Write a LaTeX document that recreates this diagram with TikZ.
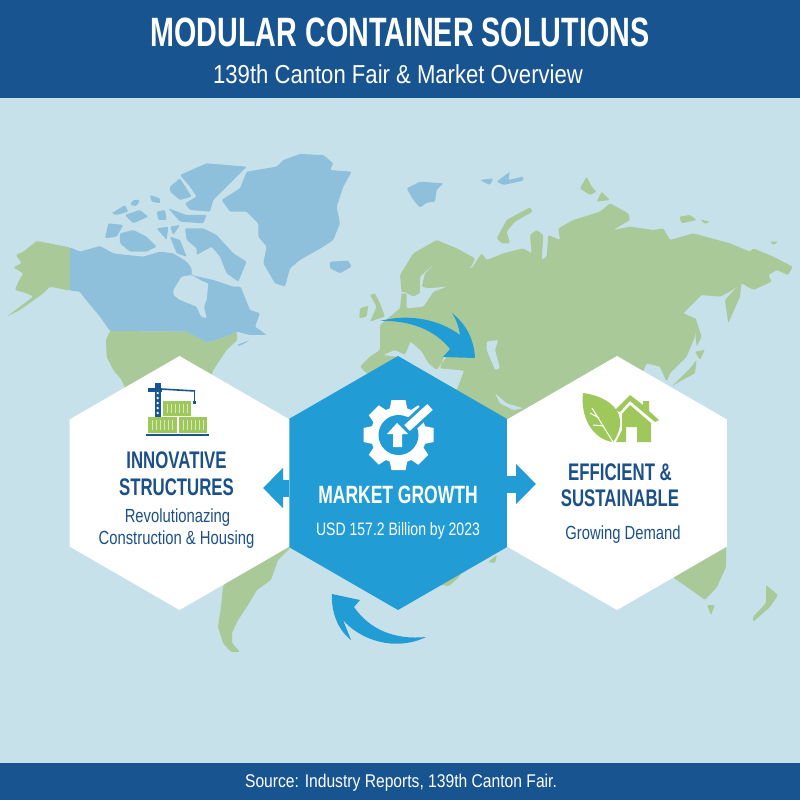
\documentclass[tikz,border=0pt]{standalone}
\usepackage{fontspec}
\setmainfont{Liberation Sans}[FakeStretch=0.78]
\newfontfamily\headfont{Liberation Sans}[FakeStretch=0.70]
\newfontfamily\widefont{Liberation Sans}[FakeStretch=0.85]
\usepackage{tikz}
\usetikzlibrary{arrows.meta,shapes.geometric,positioning}
\definecolor{mcwater}{RGB}{198,225,234}
\definecolor{mcland}{RGB}{170,201,152}
\definecolor{mcice}{RGB}{143,192,219}
\definecolor{mcnavy}{RGB}{24,84,143}
\definecolor{mctext}{RGB}{28,80,136}
\definecolor{mcblue}{RGB}{33,156,212}
\definecolor{mcgreen}{RGB}{158,199,92}
\tikzstyle{band} = [rectangle, fill=mcnavy, minimum width=800pt, inner sep=0pt]
\tikzstyle{hexagon} = [regular polygon, regular polygon sides=6, shape border rotate=30, minimum size=254pt, inner sep=0pt, fill=white]
\tikzstyle{heading} = [font=\headfont\fontsize{24}{26}\selectfont\bfseries, text=mctext, inner sep=0pt, text height=17pt, text depth=0pt]
\tikzstyle{subline} = [font=\fontsize{19}{21}\selectfont, text=mctext, inner sep=0pt, text height=14pt, text depth=0pt]
\tikzstyle{flow} = [line width=17pt, color=mcblue, -{Triangle[length=20pt,width=39pt]}]
\tikzstyle{land} = [fill=mcland, rounded corners=1.2pt]
\tikzstyle{ice} = [fill=mcice, rounded corners=1.2pt]
\tikzstyle{sea} = [fill=mcwater, rounded corners=1.2pt]
\begin{document}
\begin{tikzpicture}[x=1pt, y=-1pt]
\fill[mcwater] (0,0) rectangle (800,800);

% Americas, in crop units
\begin{scope}[shift={(0,140)}, x=0.3333pt, y=-0.3333pt]
\fill[land] (210,322) -- (110,303) -- (70,335) -- (48,345) -- (65,370) -- (40,382) -- (70,400) -- (55,425) -- (45,450) -- (80,460) -- (100,470) -- (20,530) -- (60,510) -- (130,460) -- (150,440) -- (210,452) -- cycle;
\fill[land] (330,573) -- (560,575) -- (620,607) -- (680,590) -- (710,575) -- (712,600) -- (680,630) -- (660,660) -- (640,690) -- (630,720) -- (620,800) -- (400,800) -- (365,720) -- (340,690) -- (320,650) -- (318,600) -- cycle;
\fill[ice] (210,322) -- (240,335) -- (300,318) -- (340,340) -- (380,345) -- (430,350) -- (480,335) -- (520,340) -- (560,365) -- (575,385) -- (575,405) -- (640,420) -- (700,440) -- (722,440) -- (750,510) -- (780,520) -- (765,560) -- (800,585) -- (750,585) -- (710,575) -- (680,590) -- (620,607) -- (560,575) -- (330,573) -- (300,530) -- (250,470) -- (240,455) -- (210,452) -- cycle;
\fill[sea] (520,450) -- (545,410) -- (575,405) -- (610,425) -- (625,430) -- (620,480) -- (612,500) -- (620,535) -- (603,530) -- (590,500) -- (540,480) -- (520,465) -- cycle;
\fill[ice] (555,265) -- (610,265) -- (650,285) -- (700,340) -- (740,365) -- (715,425) -- (680,400) -- (660,350) -- (635,320) -- (590,345) -- (590,325) -- (560,300) -- cycle;
\fill[ice] (360,280) -- (400,270) -- (440,290) -- (470,320) -- (440,335) -- (390,335) -- (360,310) -- cycle;
\fill[ice] (325,250) -- (370,255) -- (350,290) -- (315,295) -- cycle;
\fill[ice] (540,105) -- (620,70) -- (740,80) -- (700,120) -- (640,180) -- (630,215) -- (570,210) -- (555,190) -- (590,170) -- (570,140) -- cycle;
\fill[ice] (505,205) -- (560,225) -- (620,225) -- (610,250) -- (540,245) -- cycle;
\fill[ice] (510,140) -- (540,115) -- (575,170) -- (540,180) -- (510,155) -- cycle;
\fill[ice] (335,220) -- (375,195) -- (385,215) -- (350,225) -- cycle;
\fill[ice] (375,225) -- (420,210) -- (445,230) -- (400,250) -- cycle;
\fill[ice] (450,165) -- (480,175) -- (480,190) -- (455,185) -- cycle;
\fill[ice] (400,180) -- (420,180) -- (410,198) -- (390,195) -- cycle;
\fill[ice] (470,215) -- (495,210) -- (500,240) -- (475,240) -- cycle;
\fill[ice] (510,260) -- (540,255) -- (520,285) -- cycle;
\fill[ice] (470,265) -- (505,260) -- (500,300) -- cycle;
\fill[ice] (510,290) -- (540,300) -- (560,350) -- (530,340) -- cycle;
\fill[ice] (710,615) -- (750,600) -- (720,618) -- cycle;
\fill[ice] (665,180) -- (720,145) -- (740,95) -- (830,80) -- (850,60) -- (900,42) -- (970,45) -- (1000,70) -- (990,90) -- (1055,95) -- (1030,140) -- (1010,200) -- (1020,250) -- (1000,300) -- (970,320) -- (900,360) -- (870,385) -- (855,440) -- (825,430) -- (790,370) -- (800,320) -- (775,290) -- (775,250) -- (740,215) -- (690,215) -- cycle;
\fill[ice] (990,365) -- (1045,362) -- (1055,380) -- (1020,400) -- (990,385) -- cycle;
\fill[land] (1080,505) -- (1105,497) -- (1100,530) -- (1078,535) -- cycle;
\fill[land] (1110,465) -- (1125,460) -- (1140,490) -- (1155,530) -- (1110,545) -- (1130,500) -- cycle;
\end{scope}

% Eurasia, in crop units
\begin{scope}[shift={(400,160)}, x=0.3333pt, y=-0.3333pt]
\fill[land] (-60,495) -- (0,445) -- (5,400) -- (0,345) -- (40,280) -- (110,240) -- (170,265) -- (225,295) -- (215,318) -- (185,338) -- (170,305) -- (215,325) -- (245,280) -- (260,300) -- (310,280) -- (370,265) -- (395,280) -- (390,225) -- (410,210) -- (430,225) -- (425,300) -- (440,290) -- (445,225) -- (480,240) -- (475,205) -- (520,180) -- (600,155) -- (630,130) -- (685,160) -- (690,180) -- (640,210) -- (690,200) -- (760,210) -- (790,205) -- (810,240) -- (880,220) -- (990,250) -- (1050,275) -- (1060,265) -- (1120,290) -- (1178,320) -- (1165,345) -- (1130,330) -- (1105,345) -- (1115,365) -- (1060,390) -- (1025,370) -- (990,395) -- (960,410) -- (905,405) -- (850,460) -- (885,475) -- (885,530) -- (860,590) -- (810,640) -- (800,665) -- (780,620) -- (740,610) -- (700,700) -- (300,800) -- (-100,640) -- (-120,620) -- (-90,590) -- (-60,570) -- (-60,530) -- cycle;
\fill[land] (975,420) -- (1025,365) -- (1020,410) -- (985,490) -- cycle;
\fill[land] (885,470) -- (905,530) -- (890,560) -- (885,510) -- cycle;
\fill[land] (885,575) -- (915,570) -- (900,600) -- cycle;
\fill[land] (890,600) -- (885,640) -- (830,670) -- (815,680) -- (870,625) -- cycle;
\fill[land] (290,235) -- (320,180) -- (390,142) -- (398,155) -- (345,185) -- (320,215) -- (330,250) -- (305,250) -- cycle;
\fill[land] (540,85) -- (560,50) -- (575,80) -- (590,95) -- (570,105) -- cycle;
\fill[land] (590,125) -- (605,95) -- (630,120) -- cycle;
\fill[land] (838,170) -- (870,165) -- (890,180) -- (845,190) -- cycle;
\fill[land] (900,178) -- (930,185) -- (915,192) -- cycle;
\fill[land] (1110,245) -- (1135,245) -- (1120,255) -- cycle;
\fill[ice] (20,85) -- (60,65) -- (130,70) -- (110,90) -- (105,125) -- (80,128) -- (60,143) -- (40,120) -- cycle;
\fill[ice] (240,60) -- (280,55) -- (270,75) -- cycle;
\fill[ice] (330,35) -- (325,60) -- (370,50) -- (370,62) -- (310,75) -- (290,65) -- cycle;
\fill[sea] (100,315) -- (75,340) -- (65,380) -- (85,385) -- (140,380) -- (100,395) -- (70,440) -- (20,445) -- (20,400) -- (0,400) -- (10,395) -- (40,410) -- (60,400) -- (60,350) -- cycle;
\fill[sea] (260,545) -- (295,540) -- (285,570) -- (300,625) -- (285,630) -- (260,570) -- cycle;
\end{scope}

% Mediterranean and gulf
\begin{scope}[shift={(280,300)}, x=0.3333pt, y=-0.3333pt]
\fill[sea] (310,165) -- (345,150) -- (375,165) -- (392,125) -- (425,155) -- (445,190) -- (470,210) -- (500,170) -- (510,150) -- (490,175) -- (480,205) -- (552,212) -- (530,270) -- (400,210) -- (350,170) -- cycle;
\fill[sea] (645,280) -- (680,310) -- (730,325) -- (700,330) -- (660,310) -- cycle;
\end{scope}

% Southern land
\fill[land] (290,548) -- (278,560) -- (271,580) -- (257,590) -- (248,605) -- (238,620) -- (232,633) -- (232,643) -- (240,652) -- (231,652) -- (223,643) -- (218,627) -- (221,607) -- (223,587) -- (229,575) -- (290,520) -- cycle;
\fill[land] (441,585) -- (449,586) -- (458,578) -- (470,560) -- (430,560) -- cycle;
\fill[land] (488,562) -- (497,555) -- (495,563) -- cycle;
\fill[land] (726,540) -- (726,567) -- (717,587) -- (705,600) -- (694,592) -- (674,578) -- (660,550) -- cycle;
\fill[land] (707,605) -- (715,605) -- (711,615) -- cycle;
\fill[land] (766,585) -- (778,595) -- (770,607) -- (753,622) -- (753,617) -- (766,603) -- cycle;

% Curved arrows
\fill[mcblue] (380,321) .. controls (410,313) and (440,320) .. (460,335) .. controls (459,327) and (456,319) .. (452,313) .. controls (467,325) and (474,340) .. (475,358) -- (443,357) -- (450,349) .. controls (435,330) and (410,320) .. (380,321) -- cycle;
\fill[mcblue] (426,637) .. controls (395,640) and (370,630) .. (354,607) -- (360,600) -- (332,594) .. controls (331,612) and (338,630) .. (351,640) -- (343,620) .. controls (360,640) and (395,652) .. (426,637) -- cycle;

% Three hexagons
\node (growth) [hexagon, fill=mcblue] at (398,483) {};
\node (structures) [hexagon, left of=growth, node distance=218.5pt] {};
\node (efficient) [hexagon, right of=growth, node distance=219pt] {};

% Arrows between them
\coordinate (lefttip) at (263,488);
\coordinate (righttip) at (536,484);
\draw[flow] (growth.center |- lefttip) ++(-109,0) coordinate (leftroot) -- (lefttip);
\draw[flow] (growth.center |- righttip) ++(109,0) coordinate (rightroot) -- (righttip);

% Header and footer
\node (header) [band, minimum height=98pt] at (400,49) {};
\node (footer) [band, minimum height=37pt] at (400,781.5) {};
\node (title) [font=\headfont\fontsize{41}{44}\selectfont\bfseries, text=white, inner sep=0pt, text height=30pt, text depth=0pt] at (400,32) {MODULAR CONTAINER SOLUTIONS};
\node (subtitle) [font=\widefont\fontsize{26}{28}\selectfont, text=white, inner sep=0pt, text height=18pt, text depth=0pt] at (398,74) {139th Canton Fair \& Market Overview};
\node (source) [font=\widefont\fontsize{18.4}{20}\selectfont, text=white, inner sep=0pt, text height=13pt, text depth=0pt] at (401,781) {Source: Industry Reports, 139th Canton Fair.};

% Texts
\node (structuresA) [heading, above of=structures, node distance=23pt, xshift=-3pt] {INNOVATIVE};
\node (structuresB) [heading, below of=structures, node distance=4pt, xshift=-3pt] {STRUCTURES};
\node (structuresC) [subline, below of=structures, node distance=32pt, xshift=-2pt] {Revolutionazing};
\node (structuresD) [subline, below of=structures, node distance=54pt, xshift=-3pt] {Construction \& Housing};
\node (growthA) [heading, text=white, font=\headfont\fontsize{25}{27}\selectfont\bfseries, text height=18pt, below of=growth, node distance=11pt] {MARKET GROWTH};
\node (growthB) [subline, text=white, font=\fontsize{18}{20}\selectfont, below of=growth, node distance=45pt] {USD 157.2 Billion by 2023};
\node (efficientA) [heading, above of=efficient, node distance=11pt, xshift=3pt] {EFFICIENT \&};
\node (efficientB) [heading, below of=efficient, node distance=15pt, xshift=3pt] {SUSTAINABLE};
\node (efficientC) [subline, below of=efficient, node distance=49pt, xshift=6pt] {Growing Demand};

% Crane and containers
\fill[mcgreen] (148,417) rectangle (177,433);
\fill[mcgreen] (179,417) rectangle (207,433);
\fill[mcgreen] (163,401) rectangle (191,416);
\foreach \x in {152,156,...,174,183,187,...,203} \draw[white, opacity=0.6, line width=0.7pt] (\x,420) -- (\x,430);
\foreach \x in {167,171,...,187} \draw[white, opacity=0.6, line width=0.7pt] (\x,404) -- (\x,413);
\draw[mcnavy, line width=2pt] (146,435) -- (209,435);
\fill[mcnavy] (154.5,383) rectangle (161,417);
\foreach \y in {393,398,...,413} \fill[white] (157.7,\y) circle (1.3pt);
\fill[mcnavy] (148,388) rectangle (162,392);
\draw[mcnavy, line width=1.6pt] (161,389) -- (195,391);
\draw[mcnavy, line width=0.8pt] (194,391) -- (194,402);
\fill[mcnavy] (192.5,401) rectangle (195.5,404);

% Gear
\foreach \a in {0,45,...,315} \fill[white, rotate around={\a:(398.5,435)}] (391.5,400) -- (405.5,400) -- (408,412) -- (389,412) -- cycle;
\fill[white] (398.5,435) circle (28pt);
\fill[mcblue] (398.5,435) circle (20pt);
\draw[mcblue, line width=14pt] (404,431) -- (434,403);
\draw[white, line width=8pt] (407,428) -- (430,407);
\fill[white] (397,423) -- (408,434) -- (402,434) -- (402,447) -- (393,447) -- (393,434) -- (387,434) -- cycle;

% Leaf and house
\fill[mcgreen] (583,393) .. controls (600,395) and (622,405) .. (620,425) .. controls (619,433) and (616,438) .. (613,442) .. controls (595,440) and (580,420) .. (583,393) -- cycle;
\draw[white, line width=1pt] (613,442) -- (592,408) (604,426) -- (593,425) (599,418) -- (590,413);
\fill[mcgreen] (630,395) -- (643,405) -- (643,401) -- (649,401) -- (649,411) -- (659,420) -- (655,422) -- (630,401) -- (620,412) -- (615,410) -- cycle;
\fill[mcgreen] (630,405) -- (651,423) -- (651,442) -- (637,442) -- (637,427) -- (626,427) -- (626,442) -- (616,442) -- (622,430) -- (622,414) -- cycle;
\end{tikzpicture}
\end{document}
